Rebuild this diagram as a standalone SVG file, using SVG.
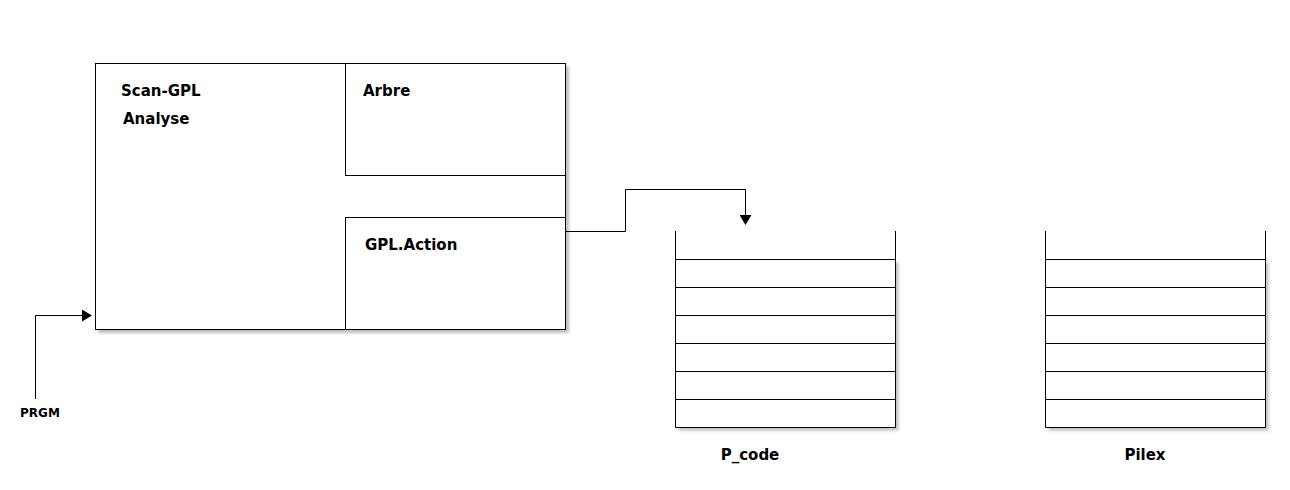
<svg xmlns="http://www.w3.org/2000/svg" width="1290" height="490" viewBox="0 0 1290 490">
<defs>
<filter id="sh" x="-5%" y="-5%" width="115%" height="115%">
<feDropShadow dx="3" dy="3" stdDeviation="1.5" flood-color="#000" flood-opacity="0.25"/>
</filter>
<marker id="arr" markerWidth="10" markerHeight="12" refX="9" refY="6" orient="auto" markerUnits="userSpaceOnUse">
<path d="M0,0 L10,6 L0,12 Z" fill="#000"/>
</marker>
<style>
.box{fill:#fff;stroke:#000;stroke-width:1}
.ln{fill:none;stroke:#000;stroke-width:1}
.t{font-family:"DejaVu Sans",sans-serif;font-weight:bold;font-size:15px;fill:#000}
.s{font-family:"DejaVu Sans",sans-serif;font-weight:bold;font-size:12px;fill:#000}
</style>
</defs>
<rect width="1290" height="490" fill="#fff"/>
<g id="scan-gpl">
<rect class="box" x="95.5" y="63.5" width="470" height="266" filter="url(#sh)"/>
<text class="t" x="121" y="96">Scan-GPL</text>
<text class="t" x="123" y="124">Analyse</text>
</g>
<g id="arbre">
<rect class="box" x="345.5" y="63.5" width="220" height="112"/>
<text class="t" x="363" y="96">Arbre</text>
</g>
<g id="gpl-action">
<rect class="box" x="345.5" y="217.5" width="220" height="112"/>
<text class="t" x="365" y="250">GPL.Action</text>
</g>
<g id="p_code">
<rect x="675.5" y="259.5" width="220" height="168" fill="#fff" stroke="none" filter="url(#sh)"/>
<path class="ln" d="M675.5,231 V427.5 H895.5 V231 M675.5,259.5 H895.5 M675.5,287.5 H895.5 M675.5,315.5 H895.5 M675.5,343.5 H895.5 M675.5,371.5 H895.5 M675.5,399.5 H895.5"/>
<text class="t" x="750" y="460" text-anchor="middle">P_code</text>
</g>
<g id="pilex">
<rect x="1045.5" y="259.5" width="220" height="168" fill="#fff" stroke="none" filter="url(#sh)"/>
<path class="ln" d="M1045.5,231 V427.5 H1265.5 V231 M1045.5,259.5 H1265.5 M1045.5,287.5 H1265.5 M1045.5,315.5 H1265.5 M1045.5,343.5 H1265.5 M1045.5,371.5 H1265.5 M1045.5,399.5 H1265.5"/>
<text class="t" x="1145" y="460" text-anchor="middle">Pilex</text>
</g>
<g id="prgm">
<text class="s" x="20" y="417">PRGM</text>
</g>
<g id="connectors">
<path class="ln" d="M566,231.5 H625.5 V189.5 H745.5 V224" marker-end="url(#arr)"/>
<path class="ln" d="M35.5,399 V315.5 H91" marker-end="url(#arr)"/>
</g>
</svg>
